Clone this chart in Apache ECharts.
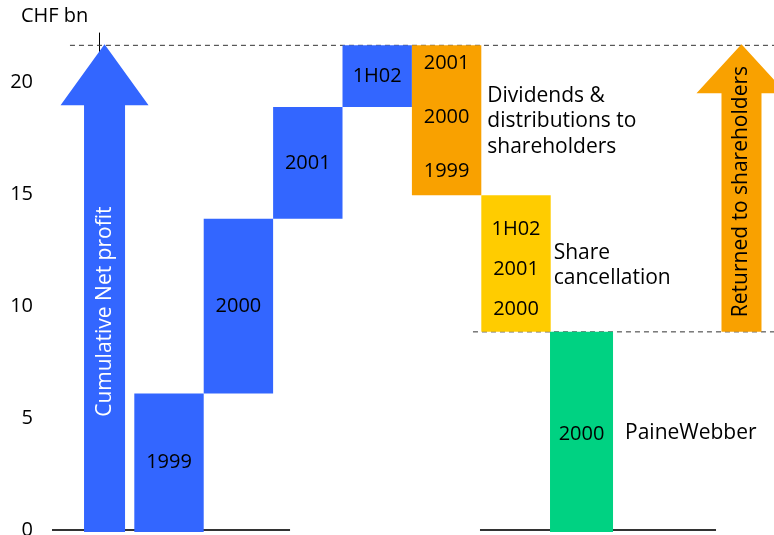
<!DOCTYPE html>
<html><head><meta charset="utf-8">
<script src="https://cdn.jsdelivr.net/npm/echarts@6/dist/echarts.min.js"></script>
<style>html,body{margin:0;padding:0;background:#fff}#c{width:774px;height:535px}</style>
</head><body><div id="c"></div>
<script>
// ---------------- data ----------------
const profitYears = ['1999', '2000', '2001', '1H02'];
const profitValues = [6.1, 7.8, 5.0, 2.75];          // CHF bn, net profit per period
const dividendYears = ['2001', '2000', '1999'];
const dividendTotal = 6.7;                           // dividends & distributions
const cancellationYears = ['1H02', '2001', '2000'];
const cancellationTotal = 6.1;                       // share cancellation
const paineWebberYear = '2000';
const yTicks = [0, 5, 10, 15, 20];
const yMax = 22.2;

// ---------------- derived ----------------
const cumulative = profitValues.reduce((a, b) => a + b, 0);
const afterDividends = cumulative - dividendTotal;
const paineWebberValue = afterDividends - cancellationTotal;

// ---------------- layout (slot units on hidden x axis) ----------------
const FONT = '"Open Sans", "Noto Sans", sans-serif';
const C = { blue: '#3366FF', orange: '#F9A100', yellow: '#FFCC00', green: '#00D282', line: '#333' };
const XMIN = -0.686, XMAX = XMIN + 722 / 69.4;
const L = {
  arrowL: 0.071, shaftL: 41 / 69.4, headLW: 88 / 69.4, headLH: 60,
  arrowR: 9.249, shaftR: 40 / 69.4, headRW: 90 / 69.4, headRH: 48,
  pwX: 6.944, pwW: 0.908
};

// blocks: [xCenter, width, low, high]
const blocks = [];
const blockMeta = [];
let run = 0;
profitValues.forEach((v, i) => {
  blocks.push([1 + i, 1, run, run + v]);
  blockMeta.push({ color: C.blue, text: profitYears[i], lh: 24, dy: 0 });
  run += v;
});
blocks.push([5, 1, afterDividends, cumulative]);
blockMeta.push({ color: C.orange, text: dividendYears.join('\n'), lh: 54, dy: -3 });
blocks.push([6, 1, paineWebberValue, afterDividends]);
blockMeta.push({ color: C.yellow, text: cancellationYears.join('\n'), lh: 40, dy: 6 });
blocks.push([L.pwX, L.pwW, 0, paineWebberValue]);
blockMeta.push({ color: C.green, text: paineWebberYear, lh: 24, dy: 2 });

// arrows: [xCenter, low, high]
const arrows = [[L.arrowL, 0, cumulative], [L.arrowR, paineWebberValue, cumulative]];
const arrowMeta = [
  { color: C.blue, sw: L.shaftL, hw: L.headLW, hh: L.headLH, text: 'Cumulative Net profit', tc: '#fff', ref: 'shaft', dy: -6 },
  { color: C.orange, sw: L.shaftR, hw: L.headRW, hh: L.headRH, text: 'Returned to shareholders', tc: '#000', ref: 'all', dy: 3 }
];

// annotations: [x, y]
const notes = [
  [5.5, (cumulative + afterDividends) / 2],
  [6.5, (afterDividends + paineWebberValue) / 2],
  [L.pwX + L.pwW / 2, paineWebberValue / 2]
];
const noteMeta = [
  { text: 'Dividends &\ndistributions to\nshareholders', dx: 6, dy: 1, lh: 25.5 },
  { text: 'Share\ncancellation', dx: 3, dy: 2, lh: 24.5 },
  { text: 'PaineWebber', dx: 12, dy: 2, lh: 24 }
];

// reference lines: [x0, x1, y]
const dashes = [[-0.427, XMAX, cumulative], [5.38, XMAX, paineWebberValue]];
const baselines = [[XMIN, 2.744, 0], [5.481, 8.882, 0]];

const chart = echarts.init(document.getElementById('c'), null, { renderer: 'canvas' });

function lineRender(dash, width) {
  return function (params, api) {
    const a = api.coord([api.value(0), api.value(2)]);
    const b = api.coord([api.value(1), api.value(2)]);
    return {
      type: 'line',
      shape: { x1: a[0], y1: a[1], x2: b[0], y2: b[1] },
      style: { stroke: C.line, lineWidth: width, lineDash: dash }
    };
  };
}

chart.setOption({
  animation: false,
  backgroundColor: '#fff',
  grid: { left: 52, right: 0, top: 33, bottom: 5, containLabel: false, outerBoundsMode: 'none' },
  graphic: [{
    type: 'text', left: 21, top: 6, silent: true,
    style: { text: 'CHF bn', fill: '#000', fontSize: 20, fontFamily: FONT }
  }],
  xAxis: { type: 'value', min: XMIN, max: XMAX, show: false },
  yAxis: {
    type: 'value', min: 0, max: yMax, interval: 5,
    axisLine: { show: true, lineStyle: { color: '#000', width: 1 } },
    axisTick: { show: false },
    splitLine: { show: false },
    axisLabel: {
      fontSize: 20, color: '#000', fontFamily: FONT, margin: 19, showMaxLabel: false,
      formatter: v => (yTicks.indexOf(v) >= 0 ? String(v) : '')
    }
  },
  series: [
    { type: 'custom', z: 1, silent: true, data: dashes, renderItem: lineRender([5, 4], 1), clip: false },
    { type: 'custom', z: 2, silent: true, data: baselines, renderItem: lineRender(null, 2), clip: false },
    {
      type: 'custom', z: 3, silent: true, data: blocks, clip: false,
      renderItem: function (params, api) {
        const m = blockMeta[params.dataIndex];
        const xc = api.value(0), w = api.value(1);
        const a = api.coord([xc - w / 2, api.value(3)]);
        const b = api.coord([xc + w / 2, api.value(2)]);
        return {
          type: 'rect',
          shape: { x: a[0], y: a[1], width: b[0] - a[0], height: b[1] - a[1] + (api.value(2) === 0 ? 2 : 0) },
          style: { fill: m.color },
          textContent: {
            style: { text: m.text, fill: '#000', fontSize: 20, fontFamily: FONT, lineHeight: m.lh, align: 'center', verticalAlign: 'middle' }
          },
          textConfig: { position: 'inside', offset: [0, m.dy] }
        };
      }
    },
    {
      type: 'custom', z: 3, silent: true, data: arrows, clip: false,
      renderItem: function (params, api) {
        const m = arrowMeta[params.dataIndex];
        const xc = api.value(0);
        const tip = api.coord([xc, api.value(2)]);
        const bot = api.coord([xc, api.value(1)]);
        const sL = api.coord([xc - m.sw / 2, 0])[0], sR = api.coord([xc + m.sw / 2, 0])[0];
        const hL = api.coord([xc - m.hw / 2, 0])[0], hR = api.coord([xc + m.hw / 2, 0])[0];
        const hy = tip[1] + m.hh;
        const by = bot[1] + (api.value(1) === 0 ? 2 : 0);
        const ty = (m.ref === 'shaft' ? (hy + bot[1]) / 2 : (tip[1] + bot[1]) / 2) + m.dy;
        return {
          type: 'group',
          children: [
            {
              type: 'polygon',
              shape: { points: [[sL, by], [sL, hy], [hL, hy], [tip[0], tip[1] - 1], [hR, hy], [sR, hy], [sR, by]] },
              style: { fill: m.color }
            },
            {
              type: 'text', x: tip[0], y: ty, rotation: Math.PI / 2,
              style: { text: m.text, fill: m.tc, fontSize: 21, fontFamily: FONT, align: 'center', verticalAlign: 'middle' }
            }
          ]
        };
      }
    },
    {
      type: 'custom', z: 4, silent: true, data: notes, clip: false,
      renderItem: function (params, api) {
        const m = noteMeta[params.dataIndex];
        const p = api.coord([api.value(0), api.value(1)]);
        return {
          type: 'text', x: p[0] + m.dx, y: p[1] + m.dy,
          style: { text: m.text, fill: '#000', fontSize: 21, fontFamily: FONT, lineHeight: m.lh, align: 'left', verticalAlign: 'middle' }
        };
      }
    }
  ]
});
</script>
</body></html>
